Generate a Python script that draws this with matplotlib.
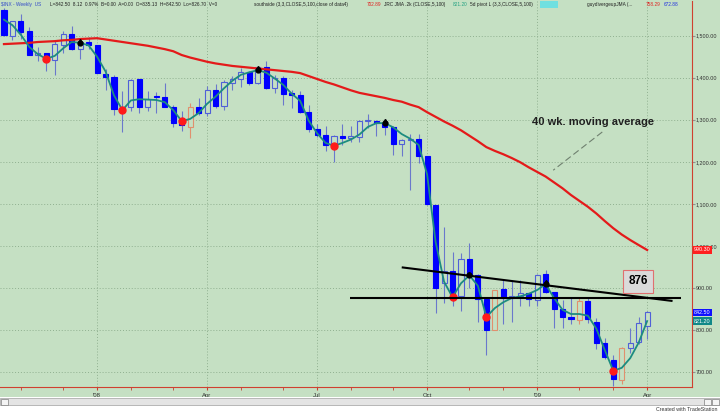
import numpy as np
import pandas as pd
import matplotlib
matplotlib.use('Agg')
import matplotlib.pyplot as plt
from matplotlib.patches import Rectangle
from matplotlib.ticker import FuncFormatter
from matplotlib.transforms import blended_transform_factory


plt.rcParams['font.family'] = ['Liberation Sans', 'DejaVu Sans']

W, H = 720, 413
BG = '#c5e0c3'

# -- data: $INX weekly bars, week ending 2007-10-19 .. 2009-04-03 --------------

first_week = '2007-10-19'

opens = [1562, 1500, 1536, 1510, 1454, 1458, 1441, 1479, 1505, 1468,
         1485, 1478, 1410, 1402, 1325, 1331, 1396, 1331, 1355, 1353,
         1330, 1293, 1283, 1330, 1316, 1370, 1333, 1387, 1398, 1414,
         1388, 1425, 1376, 1400, 1361, 1360, 1318, 1278, 1263, 1240,
         1261, 1257, 1260, 1296, 1298, 1292, 1283, 1242, 1251, 1255,
         1213, 1097, 912, 940, 880, 968, 931, 873, 801, 898,
         876, 880, 888, 872, 932, 890, 850, 832, 823, 868,
         818, 770, 729, 680, 756, 771, 809]
highs = [1565, 1535, 1552, 1520, 1474, 1460, 1488, 1510, 1523, 1486,
         1498, 1479, 1420, 1406, 1368, 1396, 1396, 1368, 1367, 1388,
         1336, 1321, 1341, 1352, 1380, 1386, 1395, 1404, 1422, 1416,
         1426, 1440, 1406, 1405, 1370, 1368, 1336, 1291, 1285, 1263,
         1291, 1284, 1300, 1313, 1300, 1303, 1285, 1255, 1265, 1265,
         1215, 1097, 1044, 985, 984, 1007, 934, 875, 896, 918,
         916, 918, 888, 934, 943, 890, 871, 877, 875, 877,
         828, 780, 740, 759, 804, 832, 845]
lows = [1500, 1489, 1492, 1453, 1439, 1416, 1406, 1460, 1467, 1445,
        1468, 1411, 1370, 1312, 1270, 1322, 1317, 1320, 1316, 1330,
        1283, 1274, 1257, 1312, 1310, 1327, 1324, 1370, 1379, 1383,
        1384, 1373, 1364, 1335, 1327, 1317, 1272, 1258, 1225, 1200,
        1240, 1247, 1248, 1281, 1262, 1264, 1217, 1213, 1133, 1197,
        1098, 840, 865, 857, 845, 899, 818, 741, 800, 815,
        818, 857, 857, 857, 888, 804, 804, 814, 814, 816,
        754, 731, 667, 672, 745, 766, 779]
closes = [1500.6, 1535.3, 1509.7, 1453.7, 1458.7, 1440.7, 1481.1, 1504.7,
          1468.0, 1484.5, 1478.5, 1411.6, 1401.0, 1325.2, 1330.6, 1395.4,
          1331.3, 1350.0, 1353.1, 1330.6, 1293.4, 1288.1, 1329.5, 1315.2,
          1370.4, 1332.8, 1390.3, 1397.8, 1413.9, 1388.3, 1425.4, 1375.9,
          1400.4, 1360.7, 1360.0, 1317.9, 1278.4, 1262.9, 1239.5, 1260.7,
          1257.8, 1260.3, 1296.3, 1298.2, 1292.2, 1282.8, 1242.3, 1251.7,
          1255.1, 1213.3, 1099.2, 899.2, 940.6, 876.8, 968.8, 931.0,
          873.3, 800.0, 896.2, 876.1, 879.7, 887.9, 872.8, 931.8,
          890.4, 850.1, 832.0, 825.9, 868.6, 826.8, 770.1, 735.1,
          683.4, 756.6, 768.5, 815.9, 842.5]

# JRC JMA line (teal)
jma = [1538, 1525, 1502, 1473, 1456, 1445, 1452, 1470, 1485, 1483,
       1477, 1450, 1415, 1358, 1323, 1346, 1349, 1348, 1347, 1342,
       1323, 1297, 1302, 1316, 1338, 1355, 1375, 1393, 1407, 1413,
       1418, 1412, 1398, 1383, 1362, 1345, 1298, 1268, 1245, 1238,
       1245, 1253, 1265, 1283, 1292, 1292, 1282, 1266, 1255, 1240,
       1170, 1010, 915, 878, 911, 930, 905, 831, 852, 866,
       876, 880, 886, 895, 909, 876, 848, 838, 838, 834,
       803, 752, 703, 710, 733, 770, 821.2]

# 40 week moving average (red)
ma40 = [1480, 1481, 1482, 1483, 1485, 1486, 1487, 1489, 1490, 1492,
        1493, 1494, 1491, 1488, 1485, 1482, 1479, 1476, 1472, 1468,
        1463, 1454, 1448, 1443, 1438, 1434, 1431, 1428, 1426, 1424,
        1422, 1420, 1418, 1416, 1414, 1411, 1404, 1397, 1390, 1384,
        1377, 1370, 1364, 1360, 1356, 1352, 1347, 1343, 1336, 1330,
        1318, 1307, 1296, 1286, 1275, 1262, 1249, 1235, 1226, 1218,
        1209, 1199, 1187, 1176, 1165, 1151, 1137, 1121, 1107, 1093,
        1077, 1059, 1042, 1027, 1014, 1002, 990.3]

orange_bars = [22, 58, 68, 73]
swing_lows = [5, 14, 21, 39, 53, 57, 72]
swing_highs = [9, 30, 45, 55, 64]

# hand drawn lines (bar index, price)
trend_x = [47.0, 79.0]
trend_y = [949, 869]
support_x = [40.9, 80.0]
support_y = [877, 877]
target_label = '876'


# -- helpers -------------------------------------------------------------------

def fx(x):
  return x / W


def fy(y):
  return 1 - y / H


def draw_candles(ax):
  idx = np.arange(len(closes))
  for i in idx:
    o, h, l, c = opens[i], highs[i], lows[i], closes[i]
    if i in orange_bars:
      col, wick, face = '#e0906e', '#e0906e', BG
    elif c >= o:
      col, wick, face = '#5060d8', '#6a78cc', BG
    else:
      col, wick, face = '#0000ff', '#6a78cc', '#0000ff'
    ax.vlines(i, l, h, color=wick, lw=0.8, zorder=2)
    bottom = min(o, c)
    height = max(abs(c - o), 2.5)
    ax.bar(i, height, bottom=bottom, width=0.6, facecolor=face,
           edgecolor=col, lw=0.8, zorder=3)


def header(fig):
  y = fy(4.5)
  pieces = [
    (1, '$INX - Weekly  US', '#3048c8'),
    (50, 'L=842.50  8.12  0.97%  B=0.00  A=0.00  O=835.13  H=842.50  '
         'Lo=826.70  V=0', '#202020'),
    (254, 'southside (3,3,CLOSE,5,100,close of data4)', '#202020'),
    (367, '702.89', '#e02020'),
    (384, 'JRC JMA .2k (CLOSE,5,100)', '#202020'),
    (453, '821.20', '#20a080'),
    (470, '5d pivot L (3,3,CLOSE,5,100)', '#202020'),
    (587, 'guydivergeupJMA (...', '#202020'),
    (646, '758.29', '#e02020'),
    (664, '672.88', '#2030e0'),
  ]
  for x, s, c in pieces:
    fig.text(fx(x), y, s, color=c, fontsize=3.4, va='center', ha='left')
  fig.patches.append(Rectangle((fx(540), fy(7.5)), 18 / W, 6 / H,
                               transform=fig.transFigure,
                               facecolor='#70e0e0', edgecolor='none'))


def footer(fig):
  fig.patches.append(Rectangle((0, 0), 1, fy(397),
                               transform=fig.transFigure,
                               facecolor='white', edgecolor='none'))
  fig.patches.append(Rectangle((0, fy(405)), 1, 7 / H,
                               transform=fig.transFigure,
                               facecolor='#e4e4e4', edgecolor='#a0a0a0',
                               lw=0.5))
  for x in [1, 704, 712]:
    fig.patches.append(Rectangle((fx(x), fy(404.5)), 7 / W, 6 / H,
                                 transform=fig.transFigure,
                                 facecolor='#f4f4f4', edgecolor='#808080',
                                 lw=0.5))
  fig.text(fx(718), fy(409.5), 'Created with TradeStation', fontsize=3.8,
           color='#303030', ha='right', va='center')


# -- plot ----------------------------------------------------------------------

def main():
  fig = plt.figure(figsize=(W / 100, H / 100), dpi=100, facecolor=BG)
  ax = fig.add_axes([0, fy(387), fx(692), 386 / H])
  ax.set_facecolor(BG)
  ax.set_xlim(-0.47, 81.3)
  ax.set_ylim(664.4, 1582.5)

  idx = np.arange(len(closes))
  weeks = pd.date_range(first_week, periods=len(closes), freq='W-FRI')

  # quarter ticks on the first bar of each quarter, monthly minor ticks
  months = pd.Series(weeks.month)
  new_month = [i for i in idx if i == 0 or months[i] != months[i - 1]]
  quarter = [i for i in new_month if i > 0 and weeks[i].month in (1, 4, 7, 10)]
  labels = ["'" + weeks[i].strftime('%y') if weeks[i].month == 1
            else weeks[i].strftime('%b') for i in quarter]
  ax.set_xticks(quarter)
  ax.set_xticklabels(labels)
  ax.set_xticks(new_month[1:], minor=True)
  ax.set_yticks(range(700, 1600, 100))
  ax.yaxis.tick_right()
  ax.yaxis.set_major_formatter(FuncFormatter(lambda v, p: f'{v:,.2f}'))
  ax.tick_params(axis='y', labelsize=3.9, colors='#909090', length=2,
                 pad=0.6, labelcolor='#303030')
  ax.tick_params(axis='x', which='both', labelsize=4.3, colors='#c04030',
                 length=2, pad=2.5, labelcolor='#303030')
  ax.grid(True, color='#90b090', ls=(0, (1, 2)), lw=0.7, zorder=0)
  ax.set_axisbelow(True)
  for side in ['left', 'top']:
    ax.spines[side].set_visible(False)
  for side in ['right', 'bottom']:
    ax.spines[side].set_color('#d04030')
    ax.spines[side].set_linewidth(0.8)

  draw_candles(ax)
  ax.plot(idx, ma40, color='#e41a1a', lw=1.6, zorder=4)
  ax.plot(idx, jma, color='#1d8c80', lw=1.3, zorder=5)
  jma_arr = np.array(jma)
  ax.plot(swing_lows, jma_arr[swing_lows], 'o', color='#ff1a1a', ms=5,
          zorder=6)
  ax.plot(swing_highs, jma_arr[swing_highs], 'o', color='black', ms=3.5,
          zorder=6)
  ax.plot(swing_highs, jma_arr[swing_highs] + 4, '^', color='black', ms=3,
          zorder=6)

  ax.plot(trend_x, trend_y, color='black', lw=1.5, zorder=7,
          solid_capstyle='butt')
  ax.plot(support_x, support_y, color='black', lw=1.5, zorder=7,
          solid_capstyle='butt')
  ax.text(74.9, 916, target_label, fontsize=8.5, fontweight='bold',
          ha='center', va='center', zorder=8,
          bbox=dict(boxstyle='square,pad=0.45', facecolor='#dadada',
                    edgecolor='#e07070', lw=0.8))

  ax.text(62.4, 1295, '40 wk. moving average', fontsize=8,
          fontweight='bold', color='#202020', ha='left', va='center')
  ax.plot([70.7, 64.9], [1271, 1180], color='#6f806f', lw=0.8,
          ls=(0, (6, 3)))

  # last value flags on the price axis
  tr = blended_transform_factory(ax.transAxes, ax.transData)
  for val, col in [(ma40[-1], '#ff2020'), (closes[-1], '#1010ff'),
                   (jma[-1], '#108888')]:
    ax.text(1.003, val, f'{val:,.2f}', transform=tr, fontsize=3.9,
            color='white', ha='left', va='center', zorder=9, clip_on=False,
            bbox=dict(boxstyle='square,pad=0.2', facecolor=col,
                      edgecolor='none'))

  header(fig)
  footer(fig)
  fig.savefig('out.png', dpi=100, facecolor=BG)


if __name__ == '__main__':
  main()
